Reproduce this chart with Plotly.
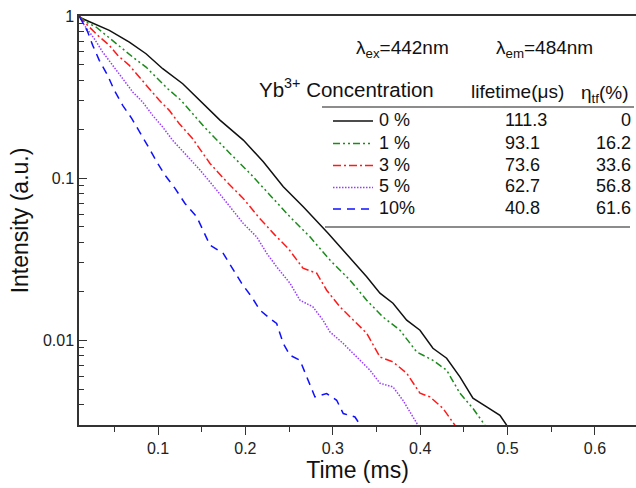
import plotly.graph_objects as go

# ---------------- data ----------------
time_0 = [0.0096, 0.0119, 0.0443, 0.0672, 0.0863, 0.1054, 0.1283, 0.1530, 0.1709, 0.1976,
          0.2205, 0.2434, 0.2662, 0.2949, 0.3216, 0.3388, 0.3540, 0.3689, 0.3846, 0.3998,
          0.4146, 0.4303, 0.4455, 0.4604, 0.4761, 0.4913, 0.4990]
int_0 = [1.0, 0.972, 0.816, 0.691, 0.585, 0.473, 0.382, 0.281, 0.228, 0.1716,
         0.1261, 0.0884, 0.0665, 0.0456, 0.0312, 0.0246, 0.0195, 0.01692, 0.01329, 0.01153,
         0.00892, 0.00774, 0.00594, 0.00439, 0.00388, 0.00344, 0.00299]

time_1 = [0.0096, 0.0176, 0.0291, 0.0405, 0.0539, 0.0711, 0.0863, 0.0977, 0.1111, 0.1263,
          0.1378, 0.1530, 0.1824, 0.2053, 0.2282, 0.2510, 0.2739, 0.2968, 0.3197, 0.3388,
          0.3574, 0.3769, 0.3960, 0.4146, 0.4303, 0.4455, 0.4604, 0.4741]
int_1 = [1.0, 0.918, 0.855, 0.760, 0.659, 0.558, 0.484, 0.420, 0.356, 0.302,
         0.2555, 0.2065, 0.142, 0.1069, 0.0785, 0.0577, 0.0434, 0.0312, 0.02347, 0.01765,
         0.01392, 0.01153, 0.00847, 0.00752, 0.00653, 0.00471, 0.00380, 0.00299]

time_3 = [0.0096, 0.0176, 0.0310, 0.0443, 0.0539, 0.0672, 0.0786, 0.0900, 0.1015, 0.1129,
          0.1244, 0.1397, 0.1595, 0.1786, 0.1976, 0.2148, 0.2339, 0.2491, 0.2659, 0.2816,
          0.2930, 0.3082, 0.3231, 0.3388, 0.3540, 0.3689, 0.3846, 0.3998, 0.4112, 0.4261,
          0.4398]
int_3 = [1.0, 0.896, 0.760, 0.659, 0.572, 0.496, 0.420, 0.356, 0.302, 0.2618,
         0.2164, 0.1748, 0.1232, 0.0949, 0.0749, 0.0577, 0.0445, 0.0368, 0.0278, 0.0259,
         0.02035, 0.01606, 0.01329, 0.01104, 0.00788, 0.00735, 0.00626, 0.00471, 0.00447, 0.00380,
         0.00299]

time_5 = [0.0096, 0.0157, 0.0271, 0.0367, 0.0482, 0.0596, 0.0711, 0.0825, 0.0939, 0.1054,
          0.1168, 0.1289, 0.1481, 0.1672, 0.1824, 0.1976, 0.2129, 0.2244, 0.2358, 0.2510,
          0.2625, 0.2773, 0.2888, 0.2968, 0.3117, 0.3273, 0.3426, 0.3540, 0.3689, 0.3803,
          0.3918, 0.3975]
int_5 = [1.0, 0.876, 0.724, 0.5995, 0.496, 0.410, 0.3396, 0.2945, 0.2438, 0.2065,
         0.1709, 0.1453, 0.1121, 0.0843, 0.0665, 0.0525, 0.0434, 0.0344, 0.02835, 0.02248,
         0.01765, 0.01606, 0.01329, 0.01125, 0.00958, 0.00788, 0.00653, 0.00543, 0.00515, 0.00426,
         0.00336, 0.00299]

time_10 = [0.0096, 0.0138, 0.0196, 0.0253, 0.0328, 0.0424, 0.0500, 0.0596, 0.0699, 0.0794,
           0.0889, 0.0985, 0.1080, 0.1195, 0.1309, 0.1443, 0.1518, 0.1595, 0.1747, 0.1862,
           0.1958, 0.2072, 0.2167, 0.2281, 0.2358, 0.2434, 0.2510, 0.2625, 0.2701, 0.2796,
           0.2930, 0.3045, 0.3120, 0.3254, 0.3292]
int_10 = [1.0, 0.918, 0.797, 0.659, 0.533, 0.4305, 0.3478, 0.281, 0.2336, 0.1888,
          0.1560, 0.1261, 0.1044, 0.0864, 0.0698, 0.0577, 0.0478, 0.0386, 0.0343, 0.0270,
          0.0224, 0.0185, 0.01532, 0.01361, 0.01268, 0.00954, 0.00808, 0.00752, 0.00594, 0.00447,
          0.00469, 0.00426, 0.00353, 0.00336, 0.00313]

series_labels = ["0 %", "1 %", "3 %", "5 %", "10%"]
lifetimes = ["111.3", "93.1", "73.6", "62.7", "40.8"]
eta_tf = ["0", "16.2", "33.6", "56.8", "61.6"]

x_tick_vals = [0.1, 0.2, 0.3, 0.4, 0.5, 0.6]
x_tick_labels = ["0.1", "0.2", "0.3", "0.4", "0.5", "0.6"]
y_tick_vals = [0.01, 0.1, 1]
y_tick_labels = ["0.01", "0.1", "1"]

# ---------------- styles ----------------
times = [time_0, time_1, time_3, time_5, time_10]
intens = [int_0, int_1, int_3, int_5, int_10]
colors = ["#111111", "#1a8a1a", "#ff1a1a", "#9a3cff", "#1010ff"]
dashes = ["solid", "7px,3px,2px,3px,2px,3px", "8px,3px,2px,3px", "1.5px,1.5px", "8px,6px"]

FONT = "Arial, 'Liberation Sans', Helvetica, sans-serif"
W, H = 636, 488
ML, MR, MT, MB = 79, 0, 16, 63
PW, PH = W - ML - MR, H - MT - MB


def px(xp):
    return (xp - ML) / PW


def py(yp):
    return (H - MB - yp) / PH


fig = go.Figure()
for t, v, c, d, name in zip(times, intens, colors, dashes, series_labels):
    fig.add_trace(go.Scatter(x=t, y=v, mode="lines", name=name,
                             line=dict(color=c, width=1.5, dash=d),
                             showlegend=False, hoverinfo="skip"))

minor_y = [k * 10 ** e for e in (-3, -2, -1) for k in range(2, 10) if 0.003 <= k * 10 ** e < 1]

fig.update_xaxes(range=[0.0096, 0.647], showline=True, linecolor="#333", linewidth=1.5,
                 mirror=True, ticks="outside", ticklen=8, tickwidth=1.2, tickcolor="#333",
                 tickvals=x_tick_vals, ticktext=x_tick_labels, showgrid=False, zeroline=False,
                 tickfont=dict(family=FONT, size=16, color="#222"),
                 minor=dict(ticks="outside", ticklen=5, tickwidth=1.2, tickcolor="#333",
                            tickvals=[0.05, 0.15, 0.25, 0.35, 0.45, 0.55], showgrid=False),
                 title=dict(text="Time (ms)", font=dict(family=FONT, size=23, color="#111"),
                            standoff=3))
fig.update_yaxes(type="log", range=[-2.523, 0], showline=True, linecolor="#333", linewidth=1.5,
                 mirror=False, ticks="inside", ticklen=8, tickwidth=1.2, tickcolor="#333",
                 tickvals=y_tick_vals, ticktext=y_tick_labels, showgrid=False, zeroline=False,
                 tickfont=dict(family=FONT, size=16, color="#222"),
                 minor=dict(ticks="inside", ticklen=5, tickwidth=1.2, tickcolor="#333",
                            tickvals=minor_y, showgrid=False),
                 title=dict(text="Intensity (a.u.)", font=dict(family=FONT, size=23, color="#111"),
                            standoff=8))

annotations = []
shapes = []


def txt(text, x, y, size, xanchor="left"):
    annotations.append(dict(text=text, x=px(x), y=py(y), xref="paper", yref="paper",
                            xanchor=xanchor, yanchor="middle", showarrow=False,
                            font=dict(family=FONT, size=size, color="#111")))


txt("λ<sub>ex</sub>=442nm", 354, 49, 19)
txt("λ<sub>em</sub>=484nm", 494, 49, 19)
txt("Yb<sup>3+</sup> Concentration", 257, 88, 20.5)
txt("lifetime(μs)", 469, 91, 19)
txt("η<sub>tf</sub>(%)", 579, 94, 19)

row_y = [120, 142.5, 164.5, 186.5, 208]
for i, yy in enumerate(row_y):
    shapes.append(dict(type="line", xref="paper", yref="paper", x0=px(333), x1=px(373),
                       y0=py(yy + 1), y1=py(yy + 1),
                       line=dict(color=colors[i], width=1.5, dash=dashes[i])))
    txt(series_labels[i], 377, yy, 18)
    txt(lifetimes[i], 503, yy, 18)
    txt(eta_tf[i], 633, yy, 18, xanchor="right")

for y0, xa, xb in [(107, 322, 634), (227, 325, 630)]:
    shapes.append(dict(type="line", xref="paper", yref="paper", x0=px(xa), x1=px(xb),
                       y0=py(y0), y1=py(y0), line=dict(color="#666", width=1.5)))

fig.update_layout(width=W, height=H, margin=dict(l=ML, r=MR, t=MT, b=MB),
                  plot_bgcolor="white", paper_bgcolor="white",
                  annotations=annotations, shapes=shapes, showlegend=False)

fig.write_html("out.html", config={"displayModeBar": False},
               post_script="document.body.style.margin='0';document.body.style.overflow='hidden';")
